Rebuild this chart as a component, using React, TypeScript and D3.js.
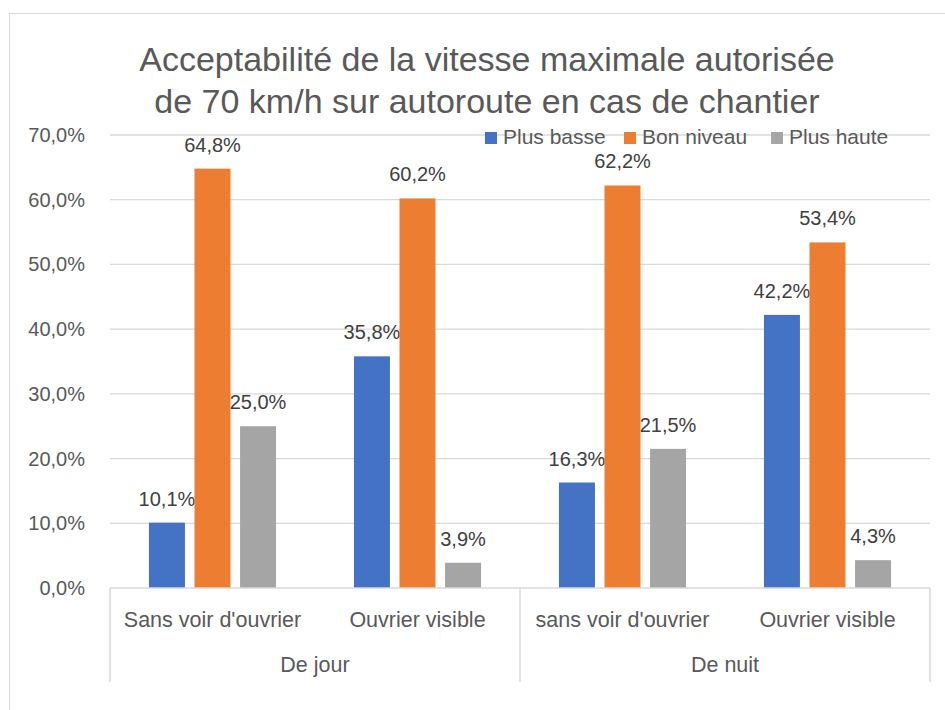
import React from "react";
import * as d3 from "d3";

const WIDTH = 945;
const HEIGHT = 710;
const MARGIN = { top: 135, right: 15, bottom: 122, left: 110 };

const categories = ["Sans voir d'ouvrier", "Ouvrier visible", "sans voir d'ouvrier", "Ouvrier visible"];
const groups = ["De jour", "De nuit"];
const seriesNames = ["Plus basse", "Bon niveau", "Plus haute"];
const plusBasse = [10.1, 35.8, 16.3, 42.2];
const bonNiveau = [64.8, 60.2, 62.2, 53.4];
const plusHaute = [25.0, 3.9, 21.5, 4.3];
const yTicks = [0, 10, 20, 30, 40, 50, 60, 70];
const titleLines = ["Acceptabilité de la vitesse maximale autorisée", "de 70 km/h sur autoroute en cas de chantier"];

const COLORS = ["#4472C4", "#ED7D31", "#A5A5A5"];
const FONT = "'Liberation Sans', Arial, sans-serif";
const fmt = (v: number) => v.toFixed(1).replace(".", ",") + "%";

const App = () => {
  const boundsWidth = WIDTH - MARGIN.left - MARGIN.right;
  const boundsHeight = HEIGHT - MARGIN.top - MARGIN.bottom;
  const values = [plusBasse, bonNiveau, plusHaute];

  const yScale = d3.scaleLinear().domain([0, 70]).range([boundsHeight, 0]);
  const catIdx = categories.map((_, i) => String(i));
  // bars of a category sit centred in its slot
  const xScale = d3
    .scaleBand()
    .domain(catIdx)
    .range([0, boundsWidth])
    .paddingInner(0.38)
    .paddingOuter(0.19);
  const xOuter = d3.scaleBand().domain(catIdx).range([0, boundsWidth]).padding(0);
  const xSub = d3
    .scaleBand()
    .domain(seriesNames)
    .range([0, xScale.bandwidth()])
    .paddingInner(0.21)
    .paddingOuter(0);
  const groupScale = d3.scaleBand().domain(groups).range([0, boundsWidth]);

  const color = d3.scaleOrdinal<string, string>().domain(seriesNames).range(COLORS);
  const legendX = [485, 624, 771];

  return (
    <div style={{ position: "absolute", left: 0, top: 0 }}>
      <svg width={WIDTH} height={HEIGHT} style={{ fontFamily: FONT, display: "block" }}>
        <rect x={0} y={0} width={WIDTH} height={HEIGHT} fill="#fff" />
        <rect x={9.5} y={13.5} width={1000} height={1000} fill="none" stroke="#d9d9d9" />

        {titleLines.map((t, i) => (
          <text key={i} x={487} y={71 + i * 42} textAnchor="middle" fontSize={34} fill="#595959">
            {t}
          </text>
        ))}

        <g transform={`translate(${MARGIN.left},${MARGIN.top})`}>
          {yTicks.map((t) => (
            <g key={t}>
              {t > 0 && (
                <line x1={0} x2={boundsWidth} y1={yScale(t)} y2={yScale(t)} stroke="#d9d9d9" strokeWidth={1.3} />
              )}
              <text x={-25} y={yScale(t)} dy="0.35em" textAnchor="end" fontSize={20} fill="#595959">
                {fmt(t)}
              </text>
            </g>
          ))}

          {values.map((vals, s) => (
            <g key={s}>
              {vals.map((v, i) => {
                const x = (xScale(String(i)) ?? 0) + (xSub(seriesNames[s]) ?? 0);
                return (
                  <g key={i}>
                    <rect
                      x={x}
                      y={yScale(v)}
                      width={xSub.bandwidth()}
                      height={boundsHeight - yScale(v)}
                      fill={color(seriesNames[s])}
                    />
                    <text
                      x={x + xSub.bandwidth() / 2}
                      y={yScale(v) - 17}
                      textAnchor="middle"
                      fontSize={20}
                      fill="#404040"
                    >
                      {fmt(v)}
                    </text>
                  </g>
                );
              })}
            </g>
          ))}

          {/* axis and multi-level category separators */}
          <line x1={0} x2={boundsWidth} y1={boundsHeight} y2={boundsHeight} stroke="#d9d9d9" strokeWidth={1.5} />
          {[0, boundsWidth / 2, boundsWidth].map((x, i) => (
            <line key={i} x1={x} x2={x} y1={boundsHeight} y2={boundsHeight + 94} stroke="#d9d9d9" strokeWidth={1.5} />
          ))}

          {categories.map((c, i) => (
            <text
              key={i}
              x={(xOuter(String(i)) ?? 0) + xOuter.bandwidth() / 2}
              y={boundsHeight + 39}
              textAnchor="middle"
              fontSize={21.5}
              fill="#595959"
            >
              {c}
            </text>
          ))}
          {groups.map((g) => (
            <text
              key={g}
              x={(groupScale(g) ?? 0) + groupScale.bandwidth() / 2}
              y={boundsHeight + 84}
              textAnchor="middle"
              fontSize={21.5}
              fill="#595959"
            >
              {g}
            </text>
          ))}
        </g>

        {/* legend */}
        {seriesNames.map((s, i) => (
          <g key={s} transform={`translate(${legendX[i]},132)`}>
            <rect width={12} height={12} fill={color(s)} />
            <text x={18} y={12} fontSize={21} fill="#595959">
              {s}
            </text>
          </g>
        ))}
      </svg>
    </div>
  );
};

export default App;
